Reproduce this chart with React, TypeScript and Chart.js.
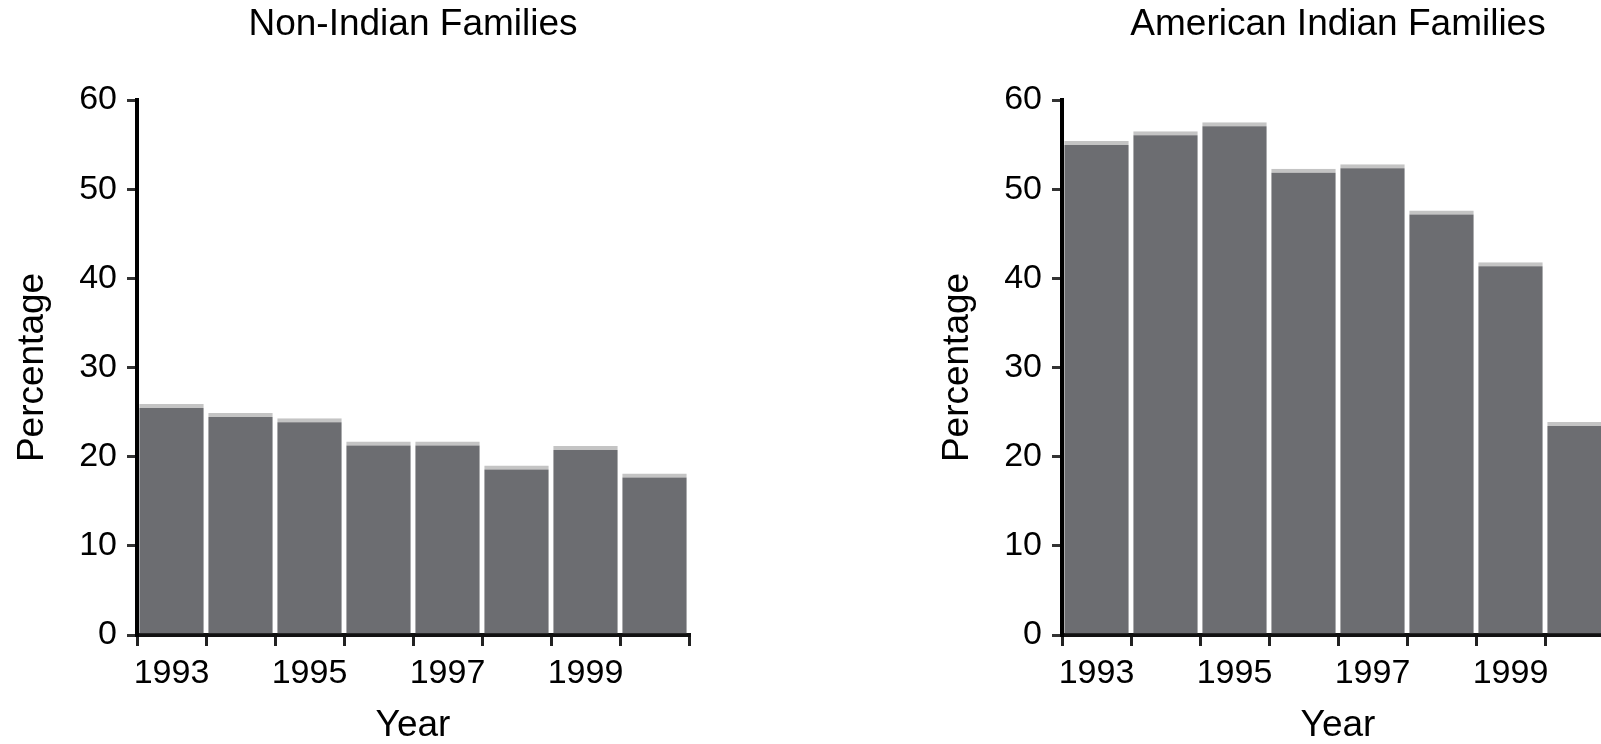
import React, { useEffect, useRef } from "react";
import { Chart, registerables } from "chart.js";

Chart.register(...registerables);

const years = ["1993", "1994", "1995", "1996", "1997", "1998", "1999", "2000"];
const yearTickLabels = ["1993", "", "1995", "", "1997", "", "1999", ""];
const nonIndianValues = [25.9, 24.9, 24.3, 21.7, 21.7, 19.0, 21.2, 18.1];
const indianValues = [55.4, 56.5, 57.5, 52.3, 52.8, 47.6, 41.8, 23.9];
const yMin = 0;
const yMax = 60;
const yStep = 10;

const FONT = "'Liberation Sans', Arial, Helvetica, sans-serif";

const centeredTitle = {
  id: "centeredTitle",
  afterDraw(chart: any, _args: any, opts: any) {
    const { ctx, chartArea } = chart;
    ctx.save();
    ctx.font = `normal 37px ${FONT}`;
    ctx.fillStyle = "#000";
    ctx.textAlign = "center";
    ctx.textBaseline = "middle";
    ctx.fillText(opts.text, (chartArea.left + chartArea.right) / 2, 25);
    ctx.restore();
  },
};

function BarPanel({ title, values, left }: { title: string; values: number[]; left: number }) {
  const ref = useRef<HTMLCanvasElement | null>(null);
  useEffect(() => {
    if (!ref.current) return;
    const chart = new Chart(ref.current, {
      type: "bar",
      data: {
        labels: years,
        datasets: [
          {
            data: values,
            backgroundColor: "#6c6d71",
            borderColor: "#c4c4c4",
            borderWidth: { top: 4, right: 0, bottom: 0, left: 0 },
            borderSkipped: "start",
            categoryPercentage: 1,
            barPercentage: 0.935,
          },
        ],
      },
      plugins: [centeredTitle],
      options: {
        responsive: false,
        animation: false,
        events: [],
        layout: { padding: { left: 0, right: 11, top: 100, bottom: 0 } },
        plugins: {
          legend: { display: false },
          tooltip: { enabled: false },
          title: { display: false },
          centeredTitle: { text: title },
        },
        scales: {
          x: {
            type: "category",
            offset: true,
            grid: {
              display: true,
              offset: true,
              drawOnChartArea: false,
              drawTicks: true,
              tickLength: 11,
              tickColor: "#222",
              tickWidth: 3,
              lineWidth: 3,
            },
            border: { display: true, color: "#111", width: 4 },
            ticks: {
              autoSkip: false,
              maxRotation: 0,
              padding: 7,
              color: "#000",
              font: { family: FONT, size: 34 },
              callback: (_v: any, i: number) => yearTickLabels[i],
            },
            title: {
              display: true,
              text: "Year",
              color: "#000",
              font: { family: FONT, size: 37, lineHeight: 1 },
              padding: 0,
            },
            afterFit: (s: any) => {
              s.height = 109;
            },
          },
          y: {
            min: yMin,
            max: yMax,
            grid: {
              display: true,
              drawOnChartArea: false,
              drawTicks: true,
              tickLength: 10,
              tickColor: "#333",
              tickWidth: 3,
              lineWidth: 3,
            },
            border: { display: true, color: "#000", width: 4 },
            ticks: {
              stepSize: yStep,
              padding: 10,
              color: "#000",
              font: { family: FONT, size: 34 },
            },
            title: {
              display: true,
              text: "Percentage",
              color: "#000",
              font: { family: FONT, size: 37, lineHeight: 1 },
              padding: { top: 14, bottom: 0 },
            },
            afterFit: (s: any) => {
              s.width = 137;
            },
          },
        },
      },
    } as any);
    return () => chart.destroy();
  }, [title, values]);
  return (
    <canvas
      ref={ref}
      width={700}
      height={744}
      style={{ position: "absolute", left, top: 0, width: 700, height: 744, display: "block" }}
    />
  );
}

export default function App() {
  return (
    <div
      style={{
        position: "fixed",
        left: 0,
        top: 0,
        width: 1601,
        height: 744,
        overflow: "hidden",
        background: "#fff",
      }}
    >
      <BarPanel title="Non-Indian Families" values={nonIndianValues} left={0} />
      <BarPanel title="American Indian Families" values={indianValues} left={925} />
    </div>
  );
}
